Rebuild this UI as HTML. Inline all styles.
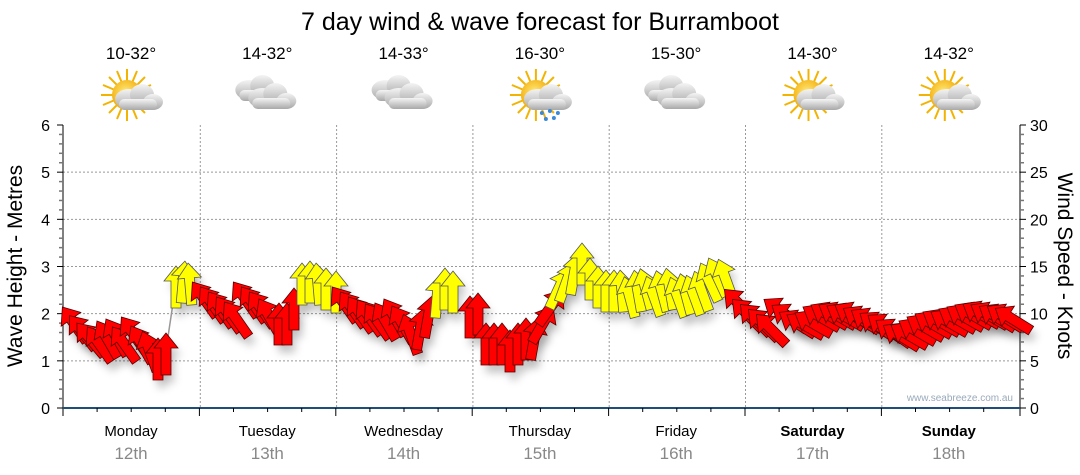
<!DOCTYPE html>
<html><head><meta charset="utf-8"><style>
html,body{margin:0;padding:0;background:#fff;width:1080px;height:475px;overflow:hidden}
svg text{font-family:"Liberation Sans","DejaVu Sans",sans-serif}
</style></head><body>
<svg id="s" width="1080" height="475" viewBox="0 0 1080 475" xmlns="http://www.w3.org/2000/svg">
<defs>
<filter id="sh" x="-50%" y="-50%" width="200%" height="200%"><feGaussianBlur stdDeviation="4"/></filter>
<radialGradient id="sun" cx="0.45" cy="0.4" r="0.6"><stop offset="0" stop-color="#ffe97a"/><stop offset="1" stop-color="#f2a800"/></radialGradient>
<linearGradient id="cl" x1="0" y1="0" x2="0" y2="1"><stop offset="0" stop-color="#f4f4f4"/><stop offset="1" stop-color="#a8a8a8"/></linearGradient>
<g id="cloud"><ellipse cx="0" cy="0" rx="14" ry="10" fill="url(#cl)"/><ellipse cx="13" cy="-4" rx="12" ry="11" fill="url(#cl)"/><ellipse cx="24" cy="3" rx="10" ry="8" fill="url(#cl)"/><rect x="-10" y="0" width="38" height="11" rx="5.5" fill="url(#cl)"/></g>
<g id="sunny"><g stroke="#f2b400" stroke-width="2"><path d="M0-26V26M-26 0H26M-18-18L18 18M18-18L-18 18M-10-24L10 24M10-24L-10 24M-24-10L24 10M24-10L-24 10"/></g><circle r="15" fill="url(#sun)"/></g>
</defs>
<text x="540" y="30" text-anchor="middle" font-size="25" fill="#000">7 day wind &amp; wave forecast for Burramboot</text>
<g id="g"></g>
</svg>
<script>
const g=document.getElementById('g');let h='';
const L=63,R=1020,T=125,B=408,mh=(B-T)/6;
for(let i=1;i<=5;i++){const y=B-i*mh;h+=`<line x1="${L}" x2="${R}" y1="${y}" y2="${y}" stroke="#999" stroke-dasharray="2,2"/>`;}
for(let d=1;d<7;d++){const x=L+1+d*136.3;h+=`<line x1="${x}" x2="${x}" y1="${T}" y2="${B}" stroke="#999" stroke-dasharray="2,2"/>`;}
h+=`<line x1="${L}" x2="${L}" y1="${T}" y2="${B+8}" stroke="#000"/>`;
for(let i=0;i<=30;i++){const y=B-i*mh/5;h+=`<line x1="${i%5?L-4:L-6}" x2="${L}" y1="${y}" y2="${y}" stroke="${i%5?'#777':'#000'}" stroke-width="${i%5?1.5:1}"/>`;}
for(let i=0;i<=6;i++){h+=`<text x="50" y="${B-i*mh+6}" text-anchor="end" font-size="16">${i}</text>`;}
h+=`<line x1="${R}" x2="${R}" y1="${T}" y2="${B+8}" stroke="#000"/>`;
for(let i=0;i<=30;i++){const y=B-i*mh/5;h+=`<line x1="${R}" x2="${R+(i%5?4:6)}" y1="${y}" y2="${y}" stroke="${i%5?'#777':'#000'}" stroke-width="${i%5?1.5:1}"/>`;}
for(let i=0;i<=6;i++){h+=`<text x="1030" y="${B-i*mh+6}" font-size="16">${i*5}</text>`;}
h+=`<line x1="${L}" x2="${R}" y1="${B}" y2="${B}" stroke="#1f4e79" stroke-width="2"/>`;
for(let k=1;k<28;k++){const x=L+k*34.1;h+=`<line x1="${x}" x2="${x}" y1="${B}" y2="${B+(k%4?4:8)}" stroke="#000"/>`;}
h+=`<text transform="translate(22,266) rotate(-90)" text-anchor="middle" font-size="21">Wave Height - Metres</text>`;
h+=`<text transform="translate(1058,266) rotate(90)" text-anchor="middle" font-size="21">Wind Speed - Knots</text>`;
const days=['Monday','Tuesday','Wednesday','Thursday','Friday','Saturday','Sunday'],dates=['12th','13th','14th','15th','16th','17th','18th'],
temps=['10-32°','14-32°','14-33°','16-30°','15-30°','14-30°','14-32°'],icons=['sc','c','c','sr','c','sc','sc'];
for(let d=0;d<7;d++){const cx=131+d*136.3;
h+=`<text x="${cx}" y="436" text-anchor="middle" font-size="15" ${d>4?'font-weight="bold"':''}>${days[d]}</text>`;
h+=`<text x="${cx}" y="459" text-anchor="middle" font-size="17" fill="#888">${dates[d]}</text>`;
h+=`<text x="${cx}" y="59" text-anchor="middle" font-size="17">${temps[d]}</text>`;
const t=icons[d];
if(t=='c'){h+=`<use href="#cloud" x="${cx-18}" y="90"/><use href="#cloud" x="${cx-5}" y="98"/>`;}
else{h+=`<use href="#sunny" x="${cx-4}" y="95"/><use href="#cloud" x="${cx-2}" y="99"/>`;
if(t=='sr')h+=`<g fill="#3a8ad8"><circle cx="${cx+2}" cy="113" r="2"/><circle cx="${cx+10}" cy="111" r="2"/><circle cx="${cx+18}" cy="113" r="2"/><circle cx="${cx+6}" cy="119" r="2"/><circle cx="${cx+14}" cy="118" r="2"/></g>`;}
}
h+=`<text x="1013" y="401" text-anchor="end" font-size="10" fill="#9ab">www.seabreeze.com.au</text>`;
h+=`<line x1="166" y1="350" x2="175" y2="290" stroke="#999" stroke-width="1.5"/>`;
const Y='#ffff00',Rd='#ff0000';
const D=[
[75,325,-35,Rd],[83,333,-38,Rd],[91,340,-40,Rd],[100,345,-35,Rd],[108,340,-30,Rd],[117,338,-30,Rd],[125,345,-35,Rd],[134,335,-35,Rd],[142,345,-30,Rd],[150,352,-20,Rd],[158,360,0,Rd],[166,355,0,Rd],
[176,288,0,Y],[183,283,5,Y],[190,285,-5,Y],
[205,300,-35,Rd],[213,305,-35,Rd],[221,310,-35,Rd],[229,315,-35,Rd],[237,320,-35,Rd],[246,300,-35,Rd],[254,305,-35,Rd],[262,310,-35,Rd],[270,318,-30,Rd],[279,325,0,Rd],[287,325,0,Rd],[294,310,0,Rd],
[302,285,0,Y],[310,283,0,Y],[318,285,-5,Y],[326,290,0,Y],[336,293,0,Y],
[345,305,-35,Rd],[353,310,-35,Rd],[361,315,-35,Rd],[370,318,-35,Rd],[378,322,-35,Rd],[386,322,-30,Rd],[395,318,-30,Rd],[403,325,-30,Rd],[411,335,-20,Rd],[420,330,10,Rd],[428,318,10,Rd],
[437,298,5,Y],[445,290,0,Y],[453,293,0,Y],[470,318,0,Rd],[478,315,0,Rd],
[486,345,0,Rd],[494,345,0,Rd],[502,345,0,Rd],[510,352,0,Rd],[518,345,0,Rd],[526,340,0,Rd],[534,340,10,Rd],[542,325,30,Rd],[550,308,35,Rd],
[558,290,25,Y],[566,283,20,Y],[574,275,10,Y],[582,265,0,Y],[590,280,0,Y],[598,288,0,Y],
[606,292,0,Y],[614,292,0,Y],[622,292,-5,Y],[630,298,-15,Y],[638,292,-10,Y],[646,290,-15,Y],[654,297,-20,Y],[662,292,-15,Y],[670,290,-10,Y],[678,298,-20,Y],[686,295,-15,Y],[694,296,-20,Y],[702,292,-20,Y],[710,283,-25,Y],[718,278,-25,Y],[726,280,-20,Y],
[740,305,-45,Rd],[748,315,-45,Rd],[756,320,-45,Rd],[764,325,-45,Rd],[772,330,-45,Rd],[782,312,-55,Rd],[790,318,-55,Rd],[798,324,-58,Rd],[806,326,-60,Rd],[814,324,-60,Rd],[822,318,-60,Rd],[830,316,-60,Rd],[838,316,-60,Rd],[846,317,-60,Rd],[854,316,-60,Rd],[862,320,-58,Rd],[870,322,-58,Rd],[878,326,-55,Rd],
[886,328,-55,Rd],[894,333,-55,Rd],[902,337,-58,Rd],[910,336,-60,Rd],[918,332,-60,Rd],[926,328,-60,Rd],[934,325,-60,Rd],[942,323,-60,Rd],[950,323,-60,Rd],[958,320,-60,Rd],[966,318,-60,Rd],[974,316,-60,Rd],[982,315,-60,Rd],[990,316,-60,Rd],[998,318,-58,Rd],[1006,318,-58,Rd],[1014,320,-58,Rd]];
const P="M0,-22 L12,-7 L5,-7 L5,20 L-5,20 L-5,-7 L-12,-7 Z";
let sh='',ar='';
for(const [x,y,a,c] of D){sh+=`<path d="${P}" transform="translate(${x+4},${y+8}) rotate(${a})" fill="#000" opacity="0.18"/>`;
ar+=`<path d="${P}" transform="translate(${x},${y}) rotate(${a})" fill="${c}" stroke="${c==Y?'#555':'#500'}" stroke-width="0.8"/>`;}
h+=`<g filter="url(#sh)">${sh}</g>`+ar;
g.innerHTML=h;
</script>
</body></html>
